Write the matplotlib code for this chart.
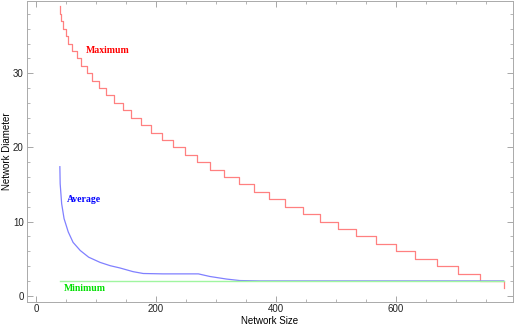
import matplotlib
matplotlib.use("Agg")
import matplotlib.pyplot as plt
from matplotlib.ticker import MultipleLocator

# Maximum diameter: network size where each level starts, and the level
max_sizes = [40, 41, 42.5, 45, 49.5, 54, 60, 68, 75, 85, 94, 105, 117, 130, 145, 159,
             175, 192, 210, 229, 249, 269, 291, 314, 338, 364, 389, 416, 445, 473,
             503, 534, 567, 600, 633, 669, 704, 741, 780]
max_diam = [39, 38, 37, 36, 35, 34, 33, 32, 31, 30, 29, 28, 27, 26, 25, 24,
            23, 22, 21, 20, 19, 18, 17, 16, 15, 14, 13, 12, 11, 10,
            9, 8, 7, 6, 5, 4, 3, 2, 1]

# Average diameter
avg_sizes = [40, 40.5, 43, 47, 54, 62, 74, 88, 107, 124, 140, 162, 179, 212,
             271, 290, 318, 340, 373, 500, 650, 780]
avg_diam = [17.4, 15.1, 12.4, 10.4, 8.6, 7.2, 6.1, 5.2, 4.5, 4.05, 3.75, 3.25, 3.0, 2.95,
            2.95, 2.6, 2.25, 2.05, 2.0, 2.0, 2.0, 2.0]

# Minimum diameter
min_sizes = [40, 780]
min_diam = [2, 2]

plt.rcParams['font.family'] = 'Liberation Sans'
fig = plt.figure(figsize=(5.14, 3.27), dpi=100)
ax = fig.add_axes([0.0516, 0.0774, 0.9464, 0.921])

ax.plot(max_sizes, max_diam, drawstyle='steps-post', color='#ff8080', lw=0.9)
ax.plot(avg_sizes, avg_diam, color='#8080ff', lw=0.9)
ax.plot(min_sizes, min_diam, color='#a0f5a0', lw=1.0)

lab = dict(family='Liberation Serif', fontweight='bold', fontsize=7, ha='center', va='center')
ax.text(120, 33.1, 'Maximum', color='#ff0000', **lab)
ax.text(80, 13, 'Average', color='#0000ff', **lab)
ax.text(82, 1.0, 'Minimum', color='#00e000', **lab)

ax.set_xlim(-15.6, 795.6)
ax.set_ylim(-0.8, 39.8)
ax.xaxis.set_major_locator(MultipleLocator(200))
ax.xaxis.set_minor_locator(MultipleLocator(50))
ax.yaxis.set_major_locator(MultipleLocator(10))
ax.yaxis.set_minor_locator(MultipleLocator(2))
ax.tick_params(which='both', direction='in', top=True, right=True, colors='#999999',
               labelcolor='#222222', labelsize=7, pad=2)
ax.tick_params(which='major', length=4.5, width=0.6)
ax.tick_params(which='minor', length=2.5, width=0.5)
for s in ax.spines.values():
    s.set_color('#aaaaaa')
    s.set_linewidth(0.7)

ax.set_xlabel('Network Size', fontsize=7, labelpad=1)
ax.set_ylabel('Network Diameter', fontsize=7, labelpad=1)

fig.savefig('out.png', dpi=100)
